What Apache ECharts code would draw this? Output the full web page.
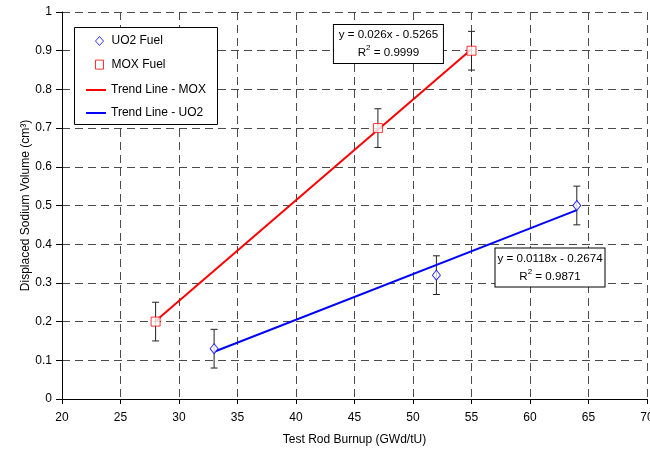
<!DOCTYPE html>
<html><head><meta charset="utf-8">
<script src="https://cdn.jsdelivr.net/npm/echarts@6/dist/echarts.min.js"></script>
<style>html,body{margin:0;padding:0;background:#fff}#c{width:650px;height:449px}</style>
</head><body><div id="c"></div>
<script>
// Data
const uo2Burnup = [33, 52, 64];
const uo2Volume = [0.13, 0.32, 0.50];
const uo2Error  = [0.05, 0.05, 0.05];
const moxBurnup = [28, 47, 55];
const moxVolume = [0.20, 0.70, 0.90];
const moxError  = [0.05, 0.05, 0.05];
const trendMoxX = [28, 55];
const trendMoxY = [0.2015, 0.9035];
const trendUo2X = [33, 64];
const trendUo2Y = [0.122, 0.488];
const eqMox = ['y = 0.026x - 0.5265', '0.9999'];
const eqUo2 = ['y = 0.0118x - 0.2674', '0.9871'];
const eqMoxAt = [47.9, 0.917];
const eqUo2At = [61.71, 0.34];

const FONT = 'Liberation Sans, Arial, sans-serif';
const pairs = (xs, ys) => xs.map((x, i) => [x, ys[i]]);
const errRows = (xs, ys, es) => xs.map((x, i) => [x, ys[i] - es[i], ys[i] + es[i]]);

const chart = echarts.init(document.getElementById('c'), null, {renderer: 'canvas'});

function errRender(params, api) {
  const x = api.value(0);
  const lo = api.coord([x, api.value(1)]);
  const hi = api.coord([x, api.value(2)]);
  const cap = 3.5;
  const st = {stroke: '#222', lineWidth: 1};
  return {type: 'group', children: [
    {type: 'line', shape: {x1: lo[0], y1: lo[1], x2: hi[0], y2: hi[1]}, style: st},
    {type: 'line', shape: {x1: lo[0] - cap, y1: lo[1], x2: lo[0] + cap, y2: lo[1]}, style: st},
    {type: 'line', shape: {x1: hi[0] - cap, y1: hi[1], x2: hi[0] + cap, y2: hi[1]}, style: st}
  ]};
}

function eqLabel(eq) {
  return {
    show: true, position: 'inside',
    formatter: eq[0] + '\nR{sup|2} = ' + eq[1],
    color: '#000', fontFamily: FONT, fontSize: 11.6, lineHeight: 18, align: 'center',
    backgroundColor: '#fff', borderColor: '#000', borderWidth: 1,
    width: 103, overflow: 'none',
    padding: [1, 3, 1, 3],
    rich: {sup: {fontSize: 8, verticalAlign: 'top', lineHeight: 10, fontFamily: FONT, color: '#000', padding: [0, 0, 6, 0]}}
  };
}

const legendText = {fontFamily: FONT, fontSize: 12, color: '#000'};

chart.setOption({
  animation: false,
  backgroundColor: '#fff',
  textStyle: {fontFamily: FONT},
  grid: {left: 62, right: 3, top: 12, bottom: 50, outerBoundsMode: 'none', containLabel: false},
  graphic: [{
    type: 'rect', left: 74, top: 27, z: 3,
    shape: {width: 143, height: 97},
    style: {fill: '#fff', stroke: '#000', lineWidth: 1}
  }],
  legend: [
    {
      orient: 'vertical', left: 95, top: 35, padding: 0, itemGap: 11.6,
      itemWidth: 8, itemHeight: 9, z: 5,
      itemStyle: {color: '#fff', borderWidth: 1},
      textStyle: Object.assign({padding: [0, 0, 0, 3]}, legendText),
      data: [
        {name: 'UO2 Fuel', icon: 'diamond', itemStyle: {color: '#fff', borderColor: '#0000ff', borderWidth: 1}},
        {name: 'MOX Fuel', icon: 'rect', itemStyle: {color: '#fff', borderColor: '#ff0000', borderWidth: 1}}
      ]
    },
    {
      orient: 'vertical', left: 86, top: 84, padding: 0, itemGap: 11,
      itemWidth: 20, itemHeight: 2, z: 5,
      textStyle: legendText,
      data: [
        {name: 'Trend Line - MOX', icon: 'rect'},
        {name: 'Trend Line - UO2', icon: 'rect'}
      ]
    }
  ],
  xAxis: {
    type: 'value', min: 20, max: 70, interval: 5,
    name: 'Test Rod Burnup (GWd/tU)', nameLocation: 'middle', nameGap: 35, nameMoveOverlap: false,
    nameTextStyle: {fontFamily: FONT, fontSize: 12, color: '#000'},
    axisLine: {onZero: false, lineStyle: {color: '#000', width: 1}},
    axisTick: {show: true, length: 5, lineStyle: {color: '#000'}},
    axisLabel: {margin: 13, fontFamily: FONT, fontSize: 12, color: '#000'},
    splitLine: {show: true, lineStyle: {color: '#4a4a4a', type: [8, 5], width: 1}}
  },
  yAxis: {
    type: 'value', min: 0, max: 1, interval: 0.1,
    name: 'Displaced Sodium Volume (cm³)', nameLocation: 'middle', nameGap: 30, nameRotate: 90, nameMoveOverlap: false,
    nameTextStyle: {fontFamily: FONT, fontSize: 12, color: '#000'},
    axisLine: {show: true, onZero: false, lineStyle: {color: '#000', width: 1}},
    axisTick: {show: true, length: 6, lineStyle: {color: '#000'}},
    axisLabel: {margin: 10, fontFamily: FONT, fontSize: 12, color: '#000'},
    splitLine: {show: true, lineStyle: {color: '#4a4a4a', type: [8, 5], width: 1}}
  },
  series: [
    {type: 'custom', name: 'errUO2', renderItem: errRender, data: errRows(uo2Burnup, uo2Volume, uo2Error), z: 2, silent: true},
    {type: 'custom', name: 'errMOX', renderItem: errRender, data: errRows(moxBurnup, moxVolume, moxError), z: 2, silent: true},
    {type: 'line', name: 'Trend Line - MOX', data: pairs(trendMoxX, trendMoxY), showSymbol: false, symbol: 'none',
     lineStyle: {color: '#ff0000', width: 2}, itemStyle: {color: '#ff0000'}, z: 3,
     markPoint: {symbol: 'rect', symbolSize: 1, itemStyle: {color: 'rgba(0,0,0,0)'}, label: eqLabel(eqMox),
       data: [{coord: eqMoxAt}], z: 10}},
    {type: 'line', name: 'Trend Line - UO2', data: pairs(trendUo2X, trendUo2Y), showSymbol: false, symbol: 'none',
     lineStyle: {color: '#0000ff', width: 2}, itemStyle: {color: '#0000ff'}, z: 3,
     markPoint: {symbol: 'rect', symbolSize: 1, itemStyle: {color: 'rgba(0,0,0,0)'}, label: eqLabel(eqUo2),
       data: [{coord: eqUo2At}], z: 10}},
    {type: 'scatter', name: 'UO2 Fuel', data: pairs(uo2Burnup, uo2Volume), symbol: 'diamond', symbolSize: [8, 10],
     itemStyle: {color: '#fff', borderColor: '#0000ff', borderWidth: 1}, z: 5},
    {type: 'scatter', name: 'MOX Fuel', data: pairs(moxBurnup, moxVolume), symbol: 'rect', symbolSize: 9,
     itemStyle: {color: '#fff', borderColor: '#ff0000', borderWidth: 1}, z: 5}
  ]
});
</script></body></html>
